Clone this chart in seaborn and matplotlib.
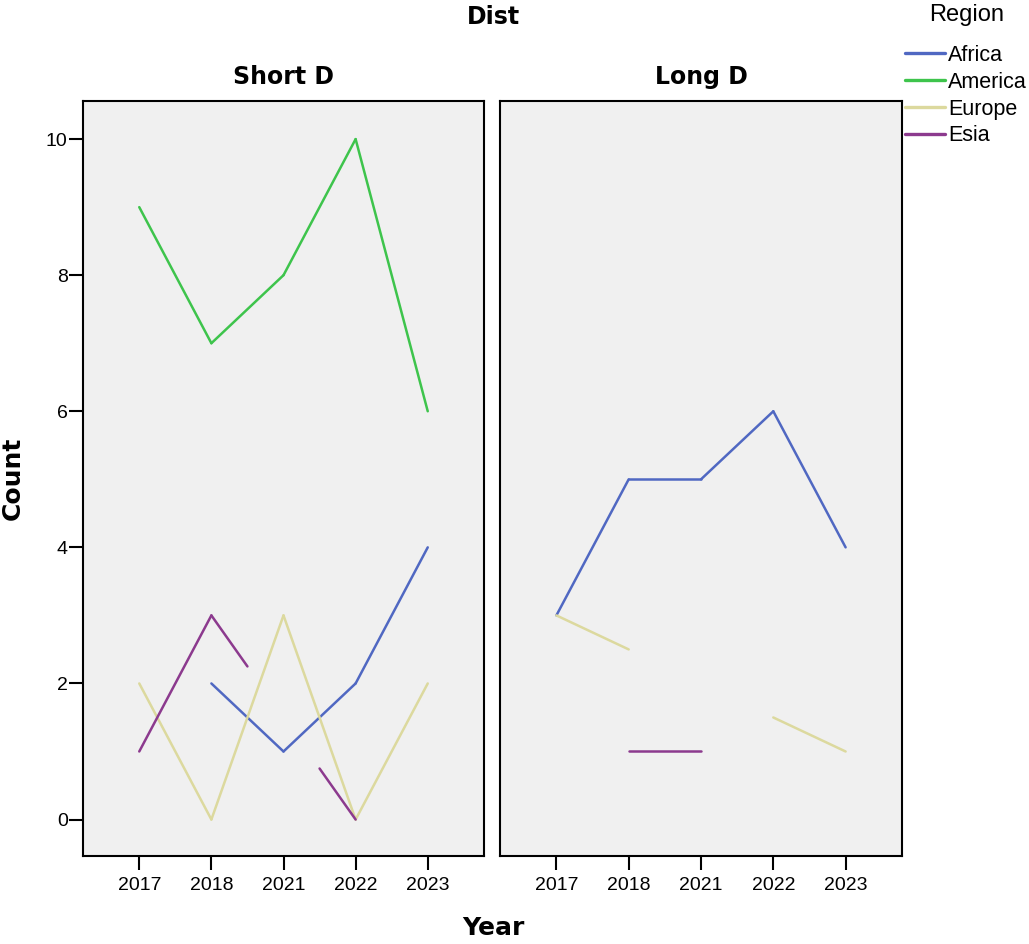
import numpy as np
import pandas as pd
import matplotlib
matplotlib.use('Agg')
import matplotlib.pyplot as plt
from matplotlib.lines import Line2D
import seaborn as sns

nan = np.nan

years = ['2017', '2018', '2021', '2022', '2023']
regions = ['Africa', 'America', 'Europe', 'Esia']
panels = ['Short D', 'Long D']

# counts per year, NaN = no value for that year
short_africa = [nan, 2, 1, 2, 4]
short_america = [9, 7, 8, 10, 6]
short_europe = [2, 0, 3, 0, 2]
short_esia = [1, 3, nan, 0, nan]

long_africa = [3, 5, 5, 6, 4]
long_america = [nan, nan, nan, nan, nan]
long_europe = [3, nan, nan, nan, 1]
long_esia = [nan, 1, 1, nan, nan]

colors = {'Africa': '#5068c2', 'America': '#3ec44c',
          'Europe': '#dcd99e', 'Esia': '#8c3a8e'}

series = {
    'Short D': dict(zip(regions, [short_africa, short_america, short_europe, short_esia])),
    'Long D': dict(zip(regions, [long_africa, long_america, long_europe, long_esia])),
}


def segments(vals):
    # full lines between neighbours; across a gap only the first and last
    # quarter of the connecting line is drawn (as the source chart does)
    known = [i for i, v in enumerate(vals) if not np.isnan(v)]
    out = []
    for a, b in zip(known[:-1], known[1:]):
        ya, yb = vals[a], vals[b]
        if b == a + 1:
            out.append(([a, b], [ya, yb]))
        else:
            f = 0.25
            out.append(([a, a + f * (b - a)], [ya, ya + f * (yb - ya)]))
            out.append(([b - f * (b - a), b], [yb - f * (yb - ya), yb]))
    return out


rows = []
for panel in panels:
    for reg in regions:
        for k, (xs, ys) in enumerate(segments(series[panel][reg])):
            for x, y in zip(xs, ys):
                rows.append(dict(panel=panel, Region=reg, unit=f'{reg}{k}', pos=x, Count=y))
df = pd.DataFrame(rows)

sns.set_style('white')
plt.rcParams['font.family'] = ['Liberation Sans', 'DejaVu Sans']
plt.rcParams['text.color'] = 'black'

fig = plt.figure(figsize=(10.29, 9.44), dpi=100)
W, H = 1029, 944
boxes = [(83, 484), (500, 902)]
top, bottom = 101, 856

axes = []
for i, panel in enumerate(panels):
    x0, x1 = boxes[i]
    ax = fig.add_axes([x0 / W, 1 - bottom / H, (x1 - x0) / W, (bottom - top) / H])
    ax.set_facecolor('#f0f0f0')
    sub = df[df.panel == panel]
    sns.lineplot(data=sub, x='pos', y='Count', hue='Region', units='unit',
                 estimator=None, hue_order=regions, palette=colors,
                 linewidth=1.8, legend=False, ax=ax)
    ax.set_xlim(-0.78, 4.78)
    ax.set_ylim(-0.536, 10.56)
    ax.set_xticks(range(len(years)))
    ax.set_xticklabels(years)
    ax.set_xlabel('')
    ax.set_ylabel('')
    for s in ax.spines.values():
        s.set_visible(True)
        s.set_color('black')
        s.set_linewidth(1.5)
    ax.tick_params(axis='x', direction='out', length=10, width=1.5, pad=5,
                   labelsize=14, bottom=True, colors='black')
    if i == 0:
        ax.set_yticks([0, 2, 4, 6, 8, 10])
        ax.tick_params(axis='y', direction='out', length=10, width=1.5, pad=1,
                       labelsize=14, left=True, colors='black')
    else:
        ax.set_yticks([])
    ax.set_title(panel, fontsize=17, fontweight='bold', family='DejaVu Sans',
                 pad=12, color='black')
    axes.append(ax)

fig.text(493 / W, 1 - 17 / H, 'Dist', ha='center', va='center',
         fontsize=17, fontweight='bold', family='DejaVu Sans')
fig.text(493 / W, 1 - 928 / H, 'Year', ha='center', va='center',
         fontsize=18, fontweight='bold', family='DejaVu Sans')
fig.text(13 / W, 1 - 478 / H, 'Count', ha='center', va='center', rotation=90,
         fontsize=18, fontweight='bold', family='DejaVu Sans')

fig.text(967 / W, 1 - 15 / H, 'Region', ha='center', va='center', fontsize=17)
handles = [Line2D([0], [0], color=colors[r], lw=2.4) for r in regions]
leg = fig.legend(handles, regions, loc='upper left',
                 bbox_to_anchor=(905 / W, 1 - 45 / H), frameon=False,
                 fontsize=15.5, handlelength=1.86, handletextpad=0.14,
                 labelspacing=0.27, borderaxespad=0, borderpad=0)

fig.savefig('out.png', dpi=100)
